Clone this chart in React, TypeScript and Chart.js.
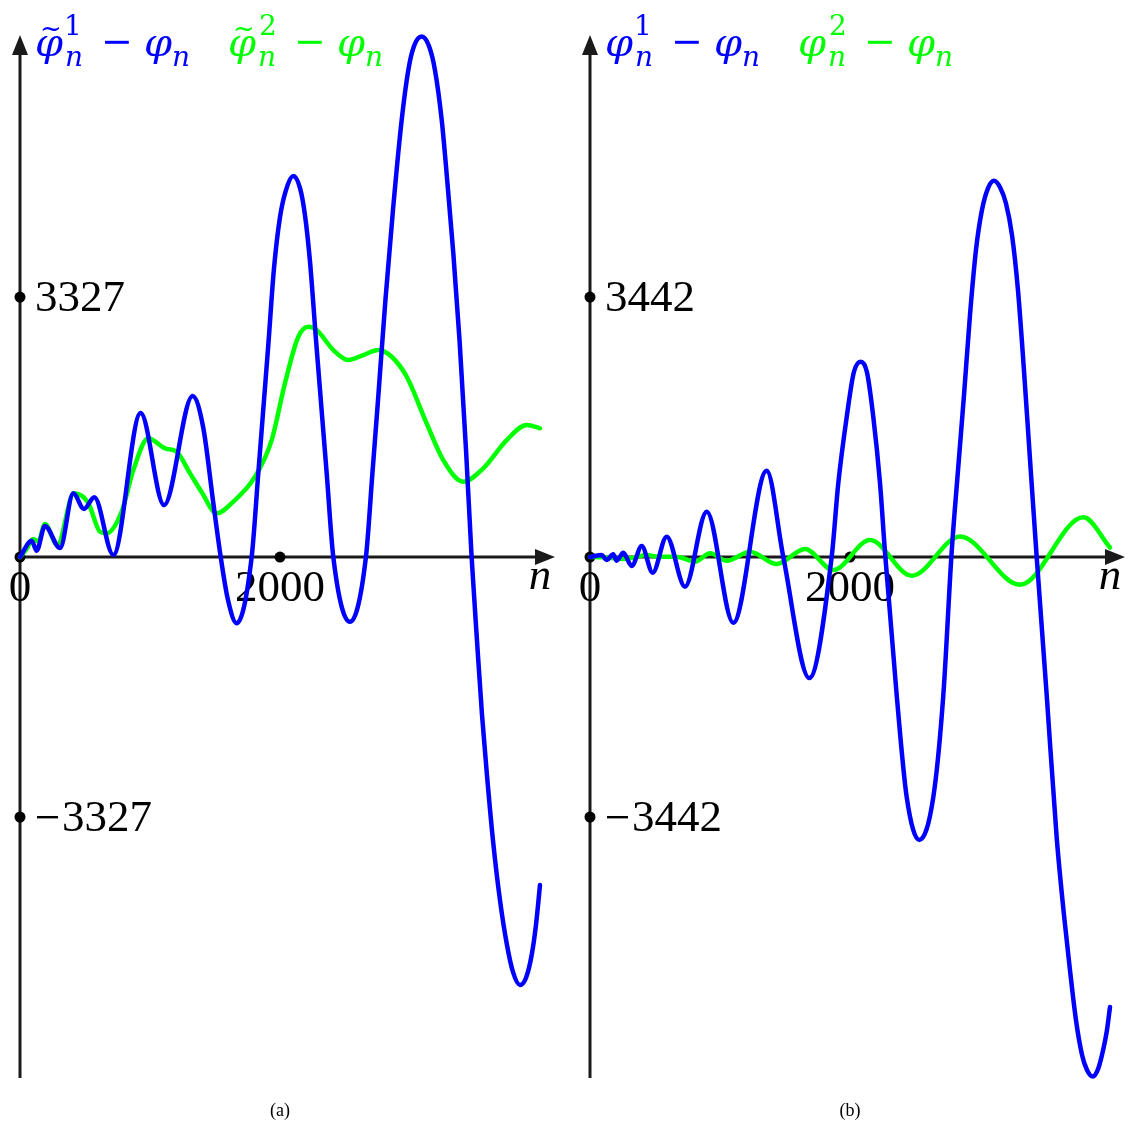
import React, { useEffect, useRef } from "react";
import { Chart, registerables } from "chart.js";
Chart.register(...registerables);

// ---------- data ----------
const N_MAX = 4000;
const X_TICK = 2000;
const Y_TICK_A = 3327;
const Y_TICK_B = 3442;

// panel (a): tilde-phi^1 - phi (blue)
const A1_N = [0, 90, 128, 192, 308, 410, 492, 572, 718, 928, 1108, 1328, 1410, 1487, 1544, 1600, 1667, 1782, 1833, 1877, 1910, 1954, 2000, 2046, 2102, 2154, 2192, 2231, 2277, 2359, 2410, 2538, 2661, 2711, 2754, 2811, 2869, 2936, 2987, 3031, 3090, 3146, 3192, 3244, 3288, 3333, 3381, 3431, 3474, 3515, 3554, 3592, 3638, 3692, 3746, 3792, 3846, 3892, 3936, 3969, 4000];
const A1_Y = [0, 209, 81, 397, 115, 815, 614, 764, 26, 1843, 665, 2060, 1651, 691, 0, -550, -848, 0, 1071, 2009, 2713, 3698, 4351, 4696, 4875, 4720, 4376, 3775, 2777, 1075, 0, -828, 0, 1075, 2009, 3289, 4440, 5592, 6232, 6539, 6660, 6539, 6232, 5592, 4786, 3890, 2777, 1369, 0, -1062, -2022, -2790, -3621, -4389, -4965, -5310, -5477, -5387, -5093, -4709, -4197];
// panel (a): tilde-phi^2 - phi (green)
const A2_N = [0, 54, 100, 140, 192, 287, 415, 525, 615, 667, 782, 872, 987, 1115, 1205, 1308, 1397, 1513, 1641, 1808, 1936, 2038, 2141, 2218, 2282, 2410, 2525, 2641, 2756, 2859, 2975, 3128, 3256, 3410, 3564, 3744, 3898, 4000];
const A2_Y = [0, 110, 230, 200, 422, 154, 815, 691, 324, 303, 580, 1113, 1519, 1391, 1347, 1071, 832, 559, 708, 1028, 1497, 2223, 2819, 2947, 2905, 2649, 2521, 2585, 2649, 2563, 2307, 1711, 1241, 963, 1135, 1497, 1689, 1647];

// panel (b): phi^1 - phi (blue)
const B1_N = [0, 90, 128, 179, 205, 256, 321, 398, 482, 590, 731, 898, 1102, 1359, 1487, 1687, 1859, 1910, 1975, 2030, 2082, 2130, 2179, 2231, 2269, 2359, 2436, 2533, 2641, 2718, 2782, 2831, 2877, 2923, 2969, 3015, 3062, 3108, 3154, 3200, 3246, 3292, 3338, 3385, 3436, 3513, 3590, 3646, 3692, 3738, 3785, 3823, 3867, 3908, 3948, 3977, 4000];
const B1_Y = [0, 26, -40, 36, -49, 57, -119, 146, -208, 269, -393, 600, -870, 1142, 0, -1602, 0, 976, 1857, 2449, 2585, 2449, 1857, 976, 66, -1826, -3177, -3746, -3177, -1826, 66, 1152, 2145, 3204, 4064, 4594, 4885, 4981, 4895, 4680, 4263, 3535, 2476, 1284, 0, -1826, -3717, -4739, -5467, -6129, -6593, -6791, -6877, -6780, -6520, -6260, -5957];
// panel (b): phi^2 - phi (green)
const B2_N = [0, 102, 256, 346, 436, 525, 615, 692, 808, 923, 1052, 1231, 1436, 1654, 1871, 2154, 2475, 2846, 3308, 3795, 4000];
const B2_Y = [0, -4, -26, -4, 26, 4, 4, -4, -62, 49, -49, 70, -93, 106, -172, 225, -248, 271, -367, 526, 126];

const BLUE = "#0000ff";
const GREEN = "#00ff00";
const AXIS = "#1a1a1a";

type PanelCfg = {
  n1: number[]; y1: number[]; n2: number[]; y2: number[];
  tick: number; tilde: boolean; caption: string;
  padLeft: number; padRight: number; termX: number[];
};

const PANELS: PanelCfg[] = [
  { n1: A1_N, y1: A1_Y, n2: A2_N, y2: A2_Y, tick: Y_TICK_A, tilde: true, caption: "(a)", padLeft: 20, padRight: 24, termX: [36, 229] },
  { n1: B1_N, y1: B1_Y, n2: B2_N, y2: B2_Y, tick: Y_TICK_B, tilde: false, caption: "(b)", padLeft: 26, padRight: 18, termX: [42, 235] },
];

const SERIF = '"Liberation Serif", "DejaVu Serif", serif';
const MATH = '"DejaVu Serif", serif';

// draw text so that its ink box has the given left (or centre) x and centre y
function glyph(ctx: CanvasRenderingContext2D, text: string, font: string, x: number, cy: number, center = false) {
  ctx.font = font;
  ctx.textAlign = "left";
  ctx.textBaseline = "alphabetic";
  const m = ctx.measureText(text);
  const asc = m.actualBoundingBoxAscent;
  const desc = m.actualBoundingBoxDescent;
  const baseline = cy + (asc - desc) / 2;
  const L = m.actualBoundingBoxLeft;
  const R = m.actualBoundingBoxRight;
  const drawX = center ? x - (R - L) / 2 : x + L;
  ctx.fillText(text, drawX, baseline);
}

function drawTerm(ctx: CanvasRenderingContext2D, x0: number, color: string, sup: string, tilde: boolean) {
  ctx.save();
  ctx.fillStyle = color;
  glyph(ctx, "φ", `italic 40px ${MATH}`, x0, 50);
  if (tilde) glyph(ctx, "~", `26px ${MATH}`, x0 + 15, 29, true);
  glyph(ctx, sup, `28px ${MATH}`, x0 + 31, 24);
  glyph(ctx, "n", `italic 28px ${MATH}`, x0 + 30, 58);
  glyph(ctx, "−", `38px ${MATH}`, x0 + 81, 42, true);
  glyph(ctx, "φ", `italic 40px ${MATH}`, x0 + 109, 50);
  glyph(ctx, "n", `italic 28px ${MATH}`, x0 + 137, 58);
  ctx.restore();
}

function makeOverlay(cfg: PanelCfg) {
  return {
    id: "overlay",
    beforeDatasetsDraw(chart: any) {
      const ctx: CanvasRenderingContext2D = chart.ctx;
      const xs = chart.scales.x;
      const ys = chart.scales.y;
      const ox = xs.getPixelForValue(0);
      const oy = ys.getPixelForValue(0);
      const top = chart.chartArea.top;
      const bottom = chart.chartArea.bottom;
      const right = chart.chartArea.right;
      ctx.save();
      ctx.strokeStyle = AXIS;
      ctx.fillStyle = AXIS;
      ctx.lineWidth = 3;
      // y axis
      ctx.beginPath();
      ctx.moveTo(ox, bottom);
      ctx.lineTo(ox, top + 10);
      ctx.stroke();
      ctx.beginPath();
      ctx.moveTo(ox, top);
      ctx.lineTo(ox - 8, top + 20);
      ctx.lineTo(ox + 8, top + 20);
      ctx.closePath();
      ctx.fill();
      // x axis
      ctx.beginPath();
      ctx.moveTo(ox, oy);
      ctx.lineTo(right + 5, oy);
      ctx.stroke();
      ctx.beginPath();
      ctx.moveTo(right + 15, oy);
      ctx.lineTo(right - 5, oy - 8);
      ctx.lineTo(right - 5, oy + 8);
      ctx.closePath();
      ctx.fill();
      // tick dots
      ctx.fillStyle = "#000";
      const dots: [number, number][] = [
        [ox, oy],
        [xs.getPixelForValue(X_TICK), oy],
        [ox, ys.getPixelForValue(cfg.tick)],
        [ox, ys.getPixelForValue(-cfg.tick)],
      ];
      for (const [dx, dy] of dots) {
        ctx.beginPath();
        ctx.arc(dx, dy, 5.5, 0, Math.PI * 2);
        ctx.fill();
      }
      // tick labels
      ctx.font = `45px ${SERIF}`;
      ctx.textBaseline = "middle";
      ctx.textAlign = "left";
      ctx.fillText(String(cfg.tick), ox + 15, ys.getPixelForValue(cfg.tick) + 2);
      ctx.fillText(String(cfg.tick), ox + 42, ys.getPixelForValue(-cfg.tick) + 2);
      ctx.fillRect(ox + 17, ys.getPixelForValue(-cfg.tick) - 1, 21, 2.4);
      ctx.textAlign = "center";
      ctx.fillText("0", ox, oy + 32);
      ctx.fillText(String(X_TICK), xs.getPixelForValue(X_TICK), oy + 32);
      ctx.font = `italic 45px ${SERIF}`;
      ctx.fillText("n", right, oy + 20);
      // legend
      drawTerm(ctx, cfg.termX[0], BLUE, "1", cfg.tilde);
      drawTerm(ctx, cfg.termX[1], GREEN, "2", cfg.tilde);
      // caption
      ctx.fillStyle = "#000";
      ctx.font = `18px ${SERIF}`;
      ctx.textAlign = "center";
      ctx.fillText(cfg.caption, xs.getPixelForValue(X_TICK), 1111);
      ctx.restore();
    },
  };
}

function Panel({ cfg, left }: { cfg: PanelCfg; left: number }) {
  const ref = useRef<HTMLCanvasElement | null>(null);
  useEffect(() => {
    if (!ref.current) return;
    const toPts = (ns: number[], vs: number[]) => ns.map((n, i) => ({ x: n, y: vs[i] }));
    const ds = (data: any, color: string) => ({
      data,
      borderColor: color,
      borderWidth: 4.5,
      pointRadius: 0,
      fill: false,
      cubicInterpolationMode: "monotone" as const,
      borderCapStyle: "round" as const,
      borderJoinStyle: "round" as const,
      clip: false as any,
    });
    const chart = new Chart(ref.current, {
      type: "line",
      data: {
        datasets: [ds(toPts(cfg.n1, cfg.y1), BLUE), ds(toPts(cfg.n2, cfg.y2), GREEN)],
      },
      options: {
        animation: false,
        responsive: false,
        maintainAspectRatio: false,
        devicePixelRatio: 1,
        layout: { padding: { left: cfg.padLeft, right: cfg.padRight, top: 35, bottom: 51 } },
        plugins: { legend: { display: false }, tooltip: { enabled: false } },
        scales: {
          x: { type: "linear", min: 0, max: N_MAX, display: false },
          y: { type: "linear", min: -2.004 * cfg.tick, max: 2.008 * cfg.tick, display: false },
        },
      },
      plugins: [makeOverlay(cfg)],
    });
    return () => chart.destroy();
  }, [cfg]);
  return (
    <canvas
      ref={ref}
      width={564}
      height={1129}
      style={{ position: "absolute", left, top: 0, width: 564, height: 1129 }}
    />
  );
}

export default function App() {
  return (
    <div style={{ position: "absolute", left: 0, top: 0, width: 1128, height: 1129, background: "#fff" }}>
      <Panel cfg={PANELS[0]} left={0} />
      <Panel cfg={PANELS[1]} left={564} />
    </div>
  );
}
